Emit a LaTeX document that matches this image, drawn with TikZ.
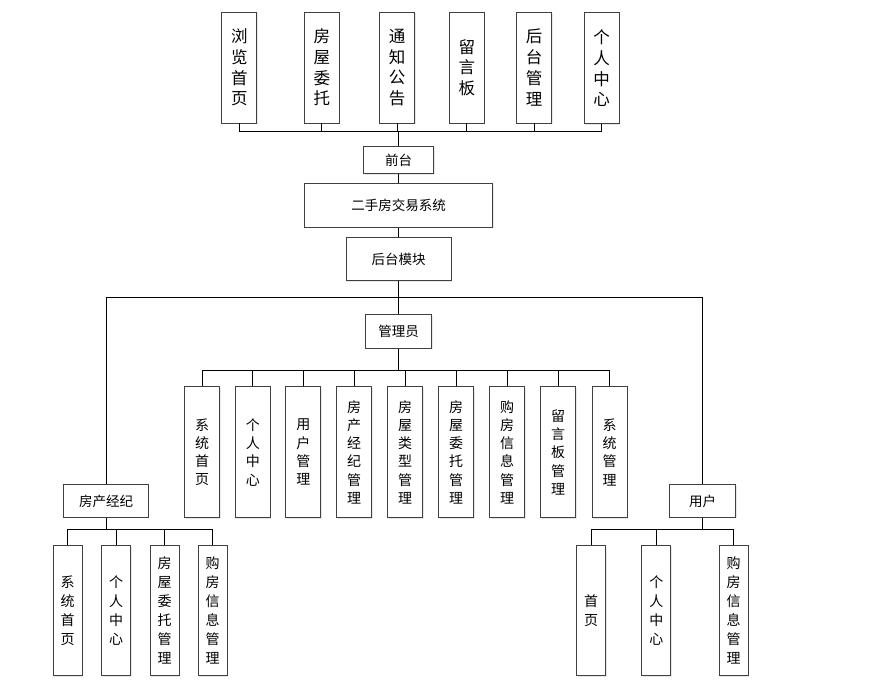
\documentclass[tikz,border=0pt]{standalone}
\usepackage{fontspec}
\setmainfont{Noto Sans CJK SC}
\usetikzlibrary{shadows}

\tikzset{
  box/.style={draw=black!75, line width=0.9pt, fill=white, inner sep=0pt, align=center,
    drop shadow={shadow xshift=1pt, shadow yshift=-1pt, opacity=0.18}},
  hbox/.style={box, font=\fontsize{13.5}{16}\selectfont},
  topcol/.style={box, minimum width=35pt, minimum height=111pt, font=\fontsize{16.5}{20.7}\selectfont},
  midcol/.style={box, minimum width=35pt, minimum height=131pt, font=\fontsize{14}{18.3}\selectfont},
  lowcol/.style={box, minimum width=29pt, minimum height=130pt, font=\fontsize{14}{19}\selectfont},
  link/.style={draw=black, line width=0.8pt}
}

\begin{document}
\begin{tikzpicture}[x=1pt,y=-1pt]
    \useasboundingbox (0,0) rectangle (881,685);

    % front end modules
    \node[topcol] (llsy) at (239.3,67.5) {浏\\览\\首\\页};
    \node[topcol] (fwwt) at (321.8,67.5) {房\\屋\\委\\托};
    \node[topcol] (tzgg) at (397,67.5) {通\\知\\公\\告};
    \node[topcol] (lyb)  at (466.8,67.5) {留\\言\\板};
    \node[topcol] (htgl) at (534,67.5) {后\\台\\管\\理};
    \node[topcol] (grzx) at (601.5,68.3) {个\\人\\中\\心};

    \node[hbox, minimum width=70pt, minimum height=27.7pt] (qt) at (398.5,160) {前台};
    \node[hbox, minimum width=188.4pt, minimum height=43.6pt] (sys) at (398.5,205.5) {二手房交易系统};
    \node[hbox, minimum width=105pt, minimum height=43.7pt] (htmk) at (398.5,259) {后台模块};
    \node[hbox, minimum width=66pt, minimum height=33.6pt] (gly) at (398.5,331.5) {管理员};

    % admin modules
    \node[midcol] (a1) at (202.2,452.2) {系\\统\\首\\页};
    \node[midcol] (a2) at (252.8,452.2) {个\\人\\中\\心};
    \node[midcol] (a3) at (303.3,452.2) {用\\户\\管\\理};
    \node[midcol] (a4) at (354,452.2) {房\\产\\经\\纪\\管\\理};
    \node[midcol] (a5) at (405,452.2) {房\\屋\\类\\型\\管\\理};
    \node[midcol] (a6) at (456,452.2) {房\\屋\\委\\托\\管\\理};
    \node[midcol] (a7) at (507,452.2) {购\\房\\信\\息\\管\\理};
    \node[midcol] (a8) at (558,452.2) {留\\言\\板\\管\\理};
    \node[midcol] (a9) at (609.5,452.2) {系\\统\\管\\理};

    \node[hbox, minimum width=84.6pt, minimum height=32.6pt] (fcjj) at (106,501) {房产经纪};
    \node[hbox, minimum width=66.4pt, minimum height=32.6pt] (yh) at (702.5,501) {用户};

    % agent modules
    \node[lowcol] (b1) at (67.5,610.7) {系\\统\\首\\页};
    \node[lowcol] (b2) at (116.2,610.7) {个\\人\\中\\心};
    \node[lowcol] (b3) at (164.5,610.7) {房\\屋\\委\\托\\管\\理};
    \node[lowcol] (b4) at (212.5,610.7) {购\\房\\信\\息\\管\\理};

    % user modules
    \node[lowcol] (c1) at (591,610.7) {首\\页};
    \node[lowcol] (c2) at (656.3,610.7) {个\\人\\中\\心};
    \node[lowcol] (c3) at (733.7,610.7) {购\\房\\信\\息\\管\\理};

    % connectors
    \coordinate (topbus) at (398.5,131);
    \coordinate (hub) at (398.5,297);
    \coordinate (midbus) at (398.5,370);
    \coordinate (lbus) at (106,529.3);
    \coordinate (rbus) at (702.5,529.3);

    \draw[link] (qt.north) -- (topbus);
    \foreach \n in {llsy,fwwt,tzgg,lyb,htgl,grzx}
      \draw[link] (topbus) -| (\n.south);
    \draw[link] (qt.south) -- (sys.north);
    \draw[link] (sys.south) -- (htmk.north);
    \draw[link] (htmk.south) -- (gly.north);
    \draw[link] (hub) -| (fcjj.north);
    \draw[link] (hub) -| (yh.north);
    \draw[link] (gly.south) -- (midbus);
    \foreach \n in {a1,a2,a3,a4,a5,a6,a7,a8,a9}
      \draw[link] (midbus) -| (\n.north);
    \draw[link] (fcjj.south) -- (lbus);
    \foreach \n in {b1,b2,b3,b4}
      \draw[link] (lbus) -| (\n.north);
    \draw[link] (yh.south) -- (rbus);
    \foreach \n in {c1,c2,c3}
      \draw[link] (rbus) -| (\n.north);
\end{tikzpicture}
\end{document}
